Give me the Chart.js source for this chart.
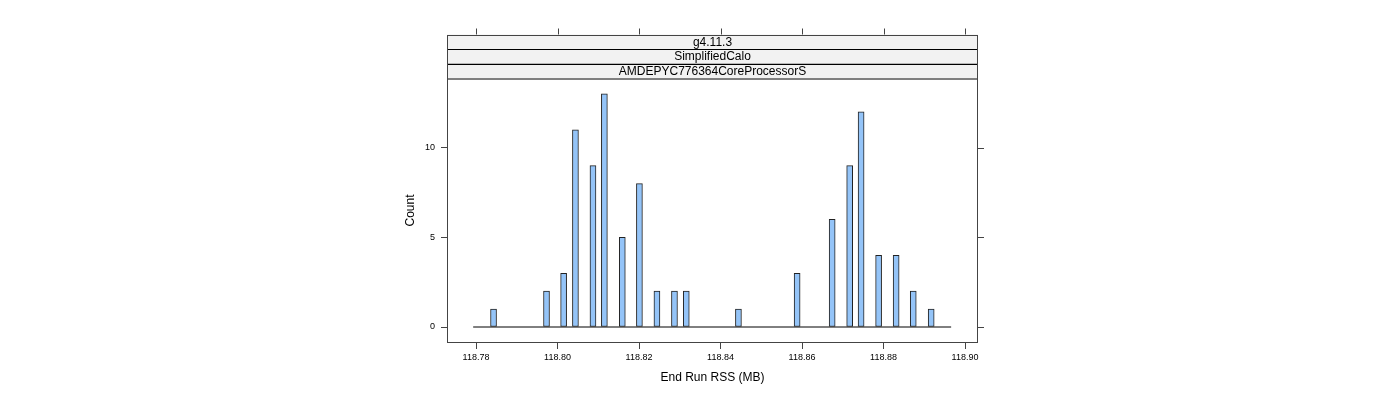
<!DOCTYPE html>
<html>
<head>
<meta charset="utf-8">
<script src="https://cdn.jsdelivr.net/npm/chart.js@4"></script>
<style>
  html, body { margin: 0; padding: 0; background: #fff; }
  #wrap { width: 1400px; height: 400px; position: relative; }
</style>
</head>
<body>
<div id="wrap"><canvas id="chart"></canvas></div>
<script>
// strip labels, outermost first
var STRIPS = ['g4.11.3', 'SimplifiedCalo', 'AMDEPYC776364CoreProcessorS'];

// bin centres (MB) and counts for the non-empty bins
var BIN_CENTRES = [118.7843, 118.7973, 118.8015, 118.8044, 118.8087, 118.8115, 118.8159, 118.8201,
                   118.8244, 118.8287, 118.8316, 118.8444, 118.8588, 118.8674, 118.8717, 118.8745,
                   118.8788, 118.8831, 118.8873, 118.8917];
var COUNTS = [1, 2, 3, 11, 9, 13, 5, 8, 2, 2, 2, 1, 3, 6, 9, 12, 4, 4, 2, 1];

// full histogram range (empty bins are drawn as a flat line)
var HIST_RANGE = [118.7793, 118.8966];

var X_TICKS = [118.78, 118.80, 118.82, 118.84, 118.86, 118.88, 118.90];
var Y_TICKS = [0, 5, 10];

var FONT = "'Liberation Sans', Arial, sans-serif";

var panelDecor = {
    id: 'panelDecor',
    afterDraw: function (chart) {
        var ctx = chart.ctx, a = chart.chartArea;
        var xs = chart.scales.x, ys = chart.scales.y;
        var stripH = 14.5;
        var top = a.top - STRIPS.length * stripH;
        ctx.save();

        // strips
        STRIPS.forEach(function (s, i) {
            var y0 = top + i * stripH;
            ctx.fillStyle = '#f2f2f2';
            ctx.fillRect(a.left, y0, a.right - a.left, stripH);
            ctx.strokeStyle = '#000';
            ctx.lineWidth = 1;
            ctx.strokeRect(a.left + 0.5, Math.round(y0) + 0.5, a.right - a.left - 1, stripH);
            ctx.fillStyle = '#000';
            ctx.font = '12px ' + FONT;
            ctx.textAlign = 'center';
            ctx.textBaseline = 'middle';
            ctx.fillText(s, (a.left + a.right) / 2, y0 + stripH / 2 + 0.5);
        });

        // panel frame
        ctx.strokeStyle = '#444';
        ctx.lineWidth = 1;
        ctx.strokeRect(a.left + 0.5, Math.round(top) + 0.5, a.right - a.left - 1, a.bottom - Math.round(top) - 1);

        // top and right ticks
        ctx.beginPath();
        X_TICKS.forEach(function (t) {
            var px = Math.round(xs.getPixelForValue(t)) + 0.5;
            ctx.moveTo(px, top);
            ctx.lineTo(px, top - 6);
        });
        Y_TICKS.forEach(function (t) {
            var py = Math.round(ys.getPixelForValue(t)) + 0.5;
            ctx.moveTo(a.right, py);
            ctx.lineTo(a.right + 6, py);
        });
        ctx.stroke();
        ctx.restore();
    }
};

new Chart(document.getElementById('chart'), {
    type: 'bar',
    data: {
        datasets: [{
            type: 'line',
            data: HIST_RANGE.map(function (x) { return { x: x, y: 0 }; }),
            borderColor: '#000',
            borderWidth: 1,
            pointRadius: 0,
            order: 2
        }, {
            type: 'bar',
            data: BIN_CENTRES.map(function (x, i) { return { x: x, y: COUNTS[i] }; }),
            backgroundColor: '#94c4f8',
            borderColor: '#222',
            borderWidth: 1,
            borderSkipped: false,
            barThickness: 6,
            order: 1
        }]
    },
    options: {
        responsive: true,
        maintainAspectRatio: false,
        animation: false,
        layout: { padding: { left: 400, right: 422, top: 78, bottom: 0 } },
        plugins: { legend: { display: false }, tooltip: { enabled: false } },
        scales: {
            x: {
                type: 'linear',
                offset: false,
                min: 118.77288,
                max: 118.90319,
                afterBuildTicks: function (s) { s.ticks = X_TICKS.map(function (v) { return { value: v }; }); },
                afterFit: function (s) { s.height = 57; },
                grid: { display: true, offset: false, drawOnChartArea: false, drawTicks: true, tickLength: 6, color: '#444' },
                border: { display: false },
                ticks: {
                    font: { family: FONT, size: 9 },
                    color: '#000',
                    padding: 3,
                    maxRotation: 0,
                    callback: function (v) { return v.toFixed(2); }
                },
                title: {
                    display: true,
                    text: 'End Run RSS (MB)',
                    font: { family: FONT, size: 12 },
                    color: '#000',
                    padding: { top: 0, bottom: 15 }
                }
            },
            y: {
                min: -0.892,
                max: 13.887,
                afterBuildTicks: function (s) { s.ticks = Y_TICKS.map(function (v) { return { value: v }; }); },
                afterFit: function (s) { s.width = 47; },
                grid: { display: true, drawOnChartArea: false, drawTicks: true, tickLength: 6, color: '#444' },
                border: { display: false },
                ticks: {
                    font: { family: FONT, size: 9 },
                    color: '#000',
                    padding: 6
                },
                title: {
                    display: true,
                    text: 'Count',
                    font: { family: FONT, size: 12 },
                    color: '#000',
                    padding: { top: 3, bottom: 0 }
                }
            }
        }
    },
    plugins: [panelDecor]
});
</script>
</body>
</html>
